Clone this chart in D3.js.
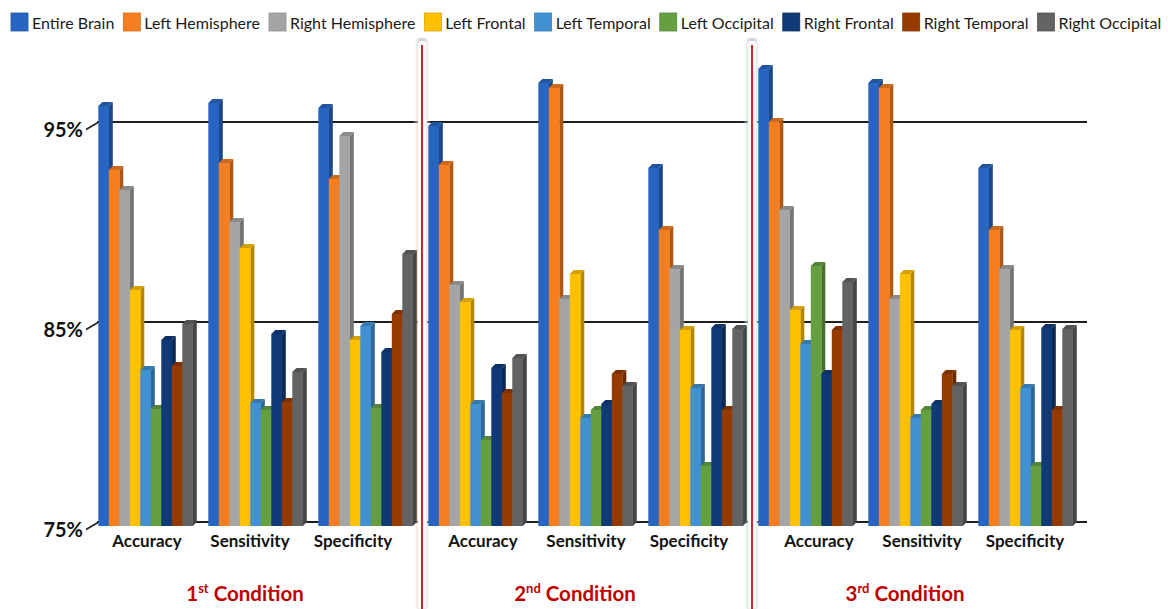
<!DOCTYPE html>
<html>
<head>
<meta charset="utf-8">
<script src="https://cdn.jsdelivr.net/npm/d3@7"></script>
<style>
  body { margin: 0; background: #ffffff; }
  svg { display: block; font-family: Lato, "Open Sans", sans-serif; }
</style>
</head>
<body>
<div id="chart"></div>
<script>
const WIDTH = 1168;
const HEIGHT = 609;

const seriesNames = ["Entire Brain", "Left Hemisphere", "Right Hemisphere", "Left Frontal",
    "Left Temporal", "Left Occipital", "Right Frontal", "Right Temporal", "Right Occipital"];
const seriesColours = ["#2765c0", "#f57f20", "#a5a5a5", "#ffc000",
    "#4190d2", "#659f41", "#0f3a77", "#963b00", "#636363"];
const metrics = ["Accuracy", "Sensitivity", "Specificity"];
const conditions = ["1", "2", "3"];
const conditionSuffix = ["st", "nd", "rd"];
const yTicks = [75, 85, 95];

// one row per metric, one value per series
const condition1 = [
    [96.0, 92.8, 91.8, 86.8, 82.8, 80.85, 84.3, 83.0, 85.1],
    [96.15, 93.15, 90.2, 88.9, 81.15, 80.8, 84.6, 81.2, 82.7],
    [95.9, 92.35, 94.5, 84.3, 85.0, 80.9, 83.7, 85.6, 88.6]
];
const condition2 = [
    [95.0, 93.05, 87.05, 86.2, 81.1, 79.3, 82.9, 81.65, 83.4],
    [97.15, 96.9, 86.35, 87.6, 80.4, 80.8, 81.1, 82.6, 82.0],
    [92.9, 89.8, 87.85, 84.8, 81.9, 78.0, 84.9, 80.8, 84.85]
];
const condition3 = [
    [97.85, 95.2, 90.8, 85.8, 84.1, 88.0, 82.6, 84.8, 87.2],
    [97.15, 96.9, 86.35, 87.6, 80.4, 80.8, 81.1, 82.6, 82.0],
    [92.9, 89.8, 87.85, 84.8, 81.9, 78.0, 84.9, 80.8, 84.85]
];
const conditionValues = [condition1, condition2, condition3];

const depth = 4;
const gridColour = "#1e1e1e";
const conditionColour = "#c00000";

let svg = d3.select("#chart")
    .append("svg")
        .attr("width", WIDTH)
        .attr("height", HEIGHT);

const y = d3.scaleLinear().domain([75, 95]).range([522, 122]);
const panelX = d3.scaleBand().domain(conditions).range([97, 1087]);
const groupX = d3.scaleBand().domain(metrics).range([1.3, 315.8]).paddingInner(0.141);
const barX = d3.scaleBand().domain(seriesNames).range([0, groupX.bandwidth()]);

function drawLegend() {
    let legend = svg.append("g").attr("class", "legend");
    let x = 11;
    seriesNames.forEach((name, i) => {
        legend.append("rect")
            .attr("x", x).attr("y", 13)
            .attr("width", 17).attr("height", 18)
            .attr("fill", seriesColours[i])
            .attr("stroke", d3.color(seriesColours[i]).darker(0.4))
            .attr("stroke-width", 0.8);
        let text = legend.append("text")
            .attr("x", x + 21).attr("y", 29)
            .attr("font-size", 16)
            .attr("fill", "#1a1a1a")
            .text(name);
        x += 21 + text.node().getComputedTextLength() + 9;
    });
}

function drawDividers() {
    let defs = svg.append("defs");
    let grad = defs.append("linearGradient").attr("id", "shade");
    grad.append("stop").attr("offset", "0%").attr("stop-color", "#ffffff").attr("stop-opacity", 0);
    grad.append("stop").attr("offset", "35%").attr("stop-color", "#cccccc");
    grad.append("stop").attr("offset", "65%").attr("stop-color", "#cccccc");
    grad.append("stop").attr("offset", "100%").attr("stop-color", "#ffffff").attr("stop-opacity", 0);

    conditions.slice(1).forEach(c => {
        let x = panelX(c) - 5;
        svg.append("rect")
            .attr("x", x - 9).attr("y", 38)
            .attr("width", 18).attr("height", HEIGHT - 38)
            .attr("rx", 7)
            .attr("fill", "url(#shade)")
            .attr("opacity", 0.85);
        svg.append("rect")
            .attr("x", x - 4).attr("y", 41)
            .attr("width", 8).attr("height", HEIGHT - 41)
            .attr("rx", 3)
            .attr("fill", "#ffffff");
        svg.append("line")
            .attr("x1", x).attr("x2", x)
            .attr("y1", 45).attr("y2", HEIGHT)
            .attr("stroke", "#c8282e")
            .attr("stroke-width", 2);
    });
}

function drawGrid() {
    conditions.forEach((c, i) => {
        let x0 = panelX(c);
        let x1 = i < conditions.length - 1 ? panelX(conditions[i + 1]) - 9 : panelX(c) + panelX.bandwidth();
        svg.append("g")
            .selectAll("line")
            .data(yTicks)
            .enter()
            .append("line")
                .attr("x1", x0).attr("x2", x1)
                .attr("y1", d => y(d)).attr("y2", d => y(d))
                .attr("stroke", gridColour)
                .attr("stroke-width", 2);
    });
}

function drawAxis() {
    let axis = d3.axisLeft(y).tickValues(yTicks).tickFormat(d => d + "%").tickSize(0);
    let g = svg.append("g")
        .attr("transform", `translate(${ panelX(conditions[0]) }, 0)`)
        .call(axis);
    g.select(".domain").remove();
    g.selectAll(".tick line")
        .attr("x1", -11).attr("y1", 7)
        .attr("x2", 1).attr("y2", 0)
        .attr("stroke", gridColour)
        .attr("stroke-width", 1.5);
    g.selectAll(".tick text")
        .attr("x", -14).attr("dy", "0.32em").attr("y", 8)
        .attr("font-family", "Lato, sans-serif")
        .attr("font-size", 20)
        .attr("font-weight", "bold")
        .attr("fill", "#111");
}

function drawBar(g, x, value, colour) {
    let w = barX.bandwidth();
    let top = y(value);
    let bottom = y(75);
    g.append("polygon")
        .attr("points", [[x + w, top + depth], [x + w + depth, top], [x + w + depth, bottom], [x + w, bottom + depth]].join(" "))
        .attr("fill", d3.color(colour).darker(1.0));
    g.append("polygon")
        .attr("points", [[x, top + depth], [x + depth, top], [x + w + depth, top], [x + w, top + depth]].join(" "))
        .attr("fill", d3.color(colour).darker(0.5));
    g.append("rect")
        .attr("x", x).attr("y", top + depth)
        .attr("width", w + 0.3)
        .attr("height", bottom - top)
        .attr("fill", colour);
}

function drawBars() {
    conditions.forEach((c, ci) => {
        let panel = svg.append("g")
            .attr("transform", `translate(${ panelX(c) }, 0)`);
        metrics.forEach((m, mi) => {
            let group = panel.append("g").attr("class", "group");
            seriesNames.forEach((s, si) => {
                let x = groupX(m) + barX(s);
                drawBar(group, x, conditionValues[ci][mi][si], seriesColours[si]);
            });
        });
    });
}

function drawLabels() {
    conditions.forEach((c, ci) => {
        let x0 = panelX(c);
        let labelX = d3.scalePoint().domain(metrics).range([x0 + 50 + 6 * ci, x0 + 256 + 6 * ci]);
        svg.append("g")
            .selectAll("text")
            .data(metrics)
            .enter()
            .append("text")
                .attr("x", d => labelX(d))
                .attr("y", 547)
                .attr("text-anchor", "middle")
                .attr("font-size", 17)
                .attr("font-weight", "bold")
                .attr("fill", "#111")
                .text(d => d);

        let label = svg.append("text")
            .attr("x", x0 + panelX.bandwidth() / 2 - 17)
            .attr("y", 601)
            .attr("text-anchor", "middle")
            .attr("font-size", 20.5)
            .attr("font-weight", "bold")
            .attr("fill", conditionColour);
        label.append("tspan").text(c);
        label.append("tspan").attr("font-size", 13).attr("dy", -8).text(conditionSuffix[ci]);
        label.append("tspan").attr("dy", 8).text(" Condition");
    });
}

drawLegend();
drawGrid();
drawDividers();
drawAxis();
drawBars();
drawLabels();
</script>
</body>
</html>
